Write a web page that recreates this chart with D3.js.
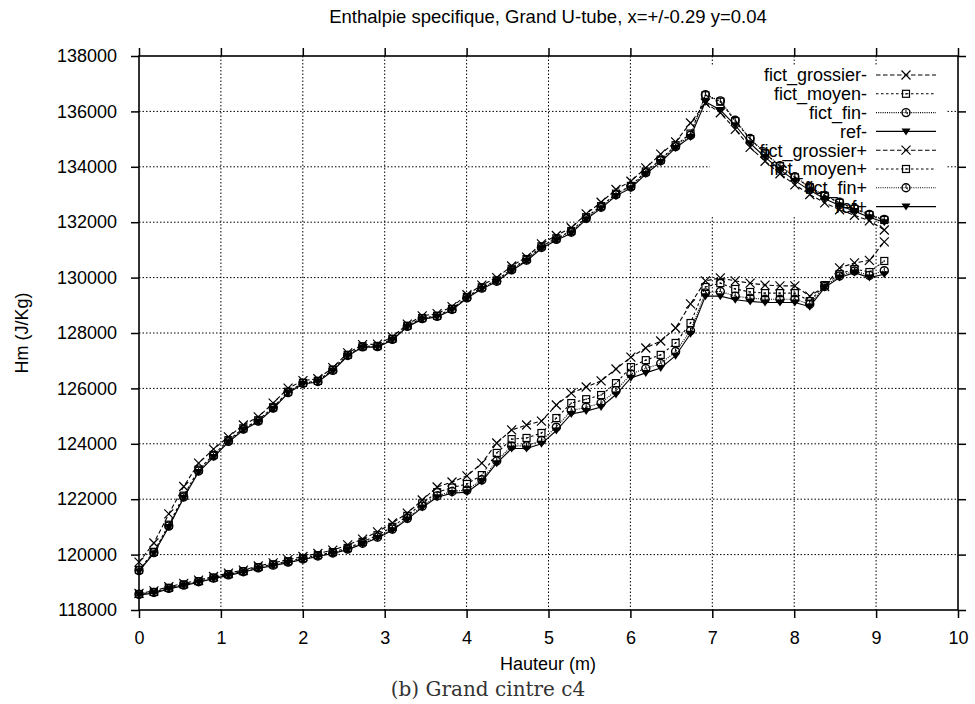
<!DOCTYPE html>
<html lang="fr">
<head>
<meta charset="UTF-8">
<title>Enthalpie specifique, Grand U-tube</title>
<script src="https://d3js.org/d3.v7.min.js"></script>
<style>
    body { margin: 0; background: #fff; }
    svg { display: block; font-family: "Liberation Sans", Arial, sans-serif; }
    .grid line { stroke: #000; stroke-width: 1; stroke-dasharray: 1.5,2; }
    .axis path { display: none; }
    .axis line { stroke: #000; stroke-width: 1.5; }
    .axis text { font-size: 18px; fill: #000; font-family: "Liberation Sans", Arial, sans-serif; }
    .key text { font-size: 18px; }
</style>
</head>
<body>
<svg width="975" height="704"></svg>
<script>
// hauteur (m) des points de mesure
const hauteur = [0, 0.182, 0.364, 0.546, 0.728, 0.91, 1.092, 1.274, 1.456, 1.638,
    1.82, 2.002, 2.184, 2.366, 2.548, 2.73, 2.912, 3.094, 3.276, 3.458,
    3.64, 3.822, 4.004, 4.186, 4.368, 4.55, 4.732, 4.914, 5.096, 5.278,
    5.46, 5.642, 5.824, 6.006, 6.188, 6.37, 6.552, 6.734, 6.916, 7.098,
    7.28, 7.462, 7.644, 7.826, 8.008, 8.19, 8.372, 8.554, 8.736, 8.918, 9.1];

// courbe haute (-)
const grossierMoins = [119730, 120420, 121470, 122460, 123300, 123810, 124250, 124680, 124970, 125470,
    126010, 126280, 126350, 126750, 127280, 127580, 127600, 127860, 128320, 128620,
    128700, 128950, 129380, 129730, 130000, 130420, 130740, 131220, 131520, 131800,
    132300, 132720, 133180, 133480, 133960, 134460, 134900, 135580, 136300, 135950,
    135350, 134700, 134200, 133750, 133350, 133000, 132700, 132450, 132250, 132050, 131720];
const moyenMoins = [119450, 120100, 121080, 122130, 123070, 123600, 124130, 124560, 124850, 125320,
    125880, 126200, 126270, 126680, 127210, 127520, 127530, 127790, 128260, 128540,
    128620, 128870, 129300, 129650, 129900, 130320, 130670, 131130, 131420, 131680,
    132180, 132580, 133030, 133310, 133830, 134260, 134780, 135200, 136580, 136350,
    135650, 135000, 134480, 134020, 133620, 133260, 132950, 132700, 132480, 132260, 132080];
const finMoins = [119420, 120070, 121030, 122080, 123020, 123560, 124090, 124530, 124820, 125290,
    125850, 126180, 126250, 126650, 127190, 127500, 127510, 127770, 128240, 128520,
    128600, 128850, 129270, 129620, 129870, 130280, 130630, 131090, 131380, 131640,
    132140, 132540, 132990, 133270, 133790, 134220, 134730, 135140, 136600, 136380,
    135680, 135020, 134500, 134040, 133640, 133280, 132970, 132720, 132500, 132280, 132100];
const refMoins = [119400, 120050, 121000, 122050, 122980, 123520, 124060, 124500, 124790, 125260,
    125830, 126160, 126230, 126630, 127170, 127490, 127490, 127750, 128220, 128500,
    128580, 128830, 129250, 129600, 129850, 130250, 130600, 131050, 131350, 131600,
    132100, 132500, 132950, 133230, 133740, 134170, 134680, 135080, 136350, 136050,
    135500, 134850, 134350, 133900, 133500, 133150, 132850, 132600, 132400, 132180, 132000];

// courbe basse (+)
const grossierPlus = [118600, 118690, 118840, 118960, 119080, 119210, 119330, 119440, 119590, 119700,
    119820, 119930, 120040, 120160, 120350, 120560, 120820, 121140, 121500, 121970,
    122440, 122620, 122840, 123300, 124030, 124500, 124680, 124820, 125400, 125830,
    126050, 126270, 126700, 127130, 127460, 127710, 128180, 129050, 129880, 129990,
    129880, 129800, 129730, 129700, 129700, 129330, 129680, 130350, 130530, 130620, 131290];
const moyenPlus = [118580, 118650, 118800, 118920, 119040, 119170, 119290, 119400, 119550, 119650,
    119760, 119870, 119980, 120090, 120240, 120460, 120700, 121000, 121400, 121850,
    122250, 122420, 122550, 122870, 123670, 124170, 124210, 124390, 124930, 125470,
    125610, 125760, 126190, 126770, 127020, 127210, 127640, 128360, 129660, 129800,
    129590, 129480, 129440, 129440, 129440, 129150, 129730, 130130, 130310, 130200, 130600];
const finPlus = [118560, 118630, 118780, 118900, 119020, 119150, 119270, 119380, 119520, 119620,
    119730, 119840, 119950, 120060, 120200, 120410, 120630, 120920, 121310, 121750,
    122120, 122280, 122330, 122700, 123380, 123920, 123930, 124120, 124600, 125200,
    125320, 125470, 125920, 126520, 126720, 126900, 127330, 128080, 129450, 129500,
    129330, 129260, 129220, 129220, 129220, 129040, 129680, 130060, 130240, 130080, 130250];
const refPlus = [118540, 118610, 118760, 118880, 119000, 119130, 119250, 119360, 119500, 119600,
    119710, 119820, 119930, 120040, 120180, 120380, 120600, 120880, 121270, 121700,
    122070, 122220, 122250, 122640, 123300, 123830, 123830, 124000, 124480, 125080,
    125180, 125330, 125780, 126380, 126560, 126740, 127180, 127970, 129330, 129330,
    129200, 129140, 129100, 129100, 129100, 128950, 129640, 130000, 130180, 130000, 130120];

const labels = ["fict_grossier-", "fict_moyen-", "fict_fin-", "ref-",
                "fict_grossier+", "fict_moyen+", "fict_fin+", "ref+"];
const valeurs = [grossierMoins, moyenMoins, finMoins, refMoins,
                 grossierPlus, moyenPlus, finPlus, refPlus];

const xTicks = [0, 1, 2, 3, 4, 5, 6, 7, 8, 9, 10];
const yTicks = [118000, 120000, 122000, 124000, 126000, 128000, 130000, 132000, 134000, 136000, 138000];

// styles gnuplot : trait et symbole de chaque type
const styles = [
    { dash: "4.5,2.5", mark: "cross" },
    { dash: "2.5,2.5", mark: "square" },
    { dash: "1,1.2",   mark: "circle" },
    { dash: null,      mark: "triangle" }
];

const svg = d3.select("svg");
const pLeft = 139, pRight = 958, pTop = 56, pBottom = 610;

const x = d3.scaleLinear().domain([0, 10]).range([pLeft, pRight]);
const y = d3.scaleLinear().domain([118000, 138000]).range([pBottom, pTop]);

// titre
svg.append("text")
   .attr("x", 548).attr("y", 23)
   .attr("text-anchor", "middle")
   .style("font-size", "18.5px")
   .text("Enthalpie specifique, Grand U-tube, x=+/-0.29 y=0.04");

// grille en pointillés
const grid = svg.append("g").attr("class", "grid");
grid.selectAll(".gx").data(xTicks.slice(1, -1)).enter().append("line")
    .attr("x1", d => x(d)).attr("x2", d => x(d))
    .attr("y1", pTop).attr("y2", pBottom);
grid.selectAll(".gy").data(yTicks.slice(1, -1)).enter().append("line")
    .attr("x1", pLeft).attr("x2", pRight)
    .attr("y1", d => y(d)).attr("y2", d => y(d));

// la légende masque la grille
svg.append("rect")
   .attr("x", 710).attr("y", 66).attr("width", 236).attr("height", 150)
   .attr("fill", "#fff");

// axes (graduations vers l'extérieur)
svg.append("g").attr("class", "axis")
   .attr("transform", `translate(0,${pBottom})`)
   .call(d3.axisBottom(x).tickValues(xTicks).tickSize(8).tickPadding(13).tickFormat(d3.format("d")));
svg.append("g").attr("class", "axis")
   .attr("transform", `translate(0,${pTop})`)
   .call(d3.axisTop(x).tickValues(xTicks).tickSize(8).tickFormat(""));
svg.append("g").attr("class", "axis")
   .attr("transform", `translate(${pLeft},0)`)
   .call(d3.axisLeft(y).tickValues(yTicks).tickSize(8).tickPadding(14).tickFormat(d3.format("d")));
svg.append("g").attr("class", "axis")
   .attr("transform", `translate(${pRight},0)`)
   .call(d3.axisRight(y).tickValues(yTicks).tickSize(8).tickFormat(""));

svg.append("rect")
   .attr("x", pLeft).attr("y", pTop)
   .attr("width", pRight - pLeft).attr("height", pBottom - pTop)
   .attr("fill", "none").attr("stroke", "#000").attr("stroke-width", 1.6);

// dessin d'un symbole
function drawMark(g, type, cx, cy) {
    if (type === "cross") {
        g.append("path")
         .attr("d", `M${cx - 4.5},${cy - 4.5}L${cx + 4.5},${cy + 4.5}M${cx - 4.5},${cy + 4.5}L${cx + 4.5},${cy - 4.5}`)
         .attr("stroke", "#000").attr("stroke-width", 1.2);
    } else if (type === "square") {
        g.append("rect")
         .attr("x", cx - 3.5).attr("y", cy - 3.5).attr("width", 7).attr("height", 7)
         .attr("fill", "none").attr("stroke", "#000").attr("stroke-width", 1.2);
        g.append("rect").attr("x", cx - 0.7).attr("y", cy - 0.7).attr("width", 1.4).attr("height", 1.4).attr("fill", "#000");
    } else if (type === "circle") {
        g.append("circle").attr("cx", cx).attr("cy", cy).attr("r", 4)
         .attr("fill", "none").attr("stroke", "#000").attr("stroke-width", 1.4);
        g.append("path").attr("d", `M${cx},${cy - 3}L${cx},${cy}L${cx + 2},${cy + 1.5}`)
         .attr("stroke", "#000").attr("stroke-width", 1).attr("fill", "none");
    } else {
        g.append("path")
         .attr("d", `M${cx - 4.5},${cy - 3}L${cx + 4.5},${cy - 3}L${cx},${cy + 4}Z`)
         .attr("fill", "#000");
    }
}

const line = d3.line().x(d => x(d[0])).y(d => y(d[1]));

valeurs.forEach((serie, k) => {
    const st = styles[k % 4];
    const pts = hauteur.map((h, i) => [h, serie[i]]);
    const g = svg.append("g");
    g.append("path")
     .datum(pts)
     .attr("d", line)
     .attr("fill", "none")
     .attr("stroke", "#000")
     .attr("stroke-width", 1.1)
     .attr("stroke-dasharray", st.dash);
    pts.forEach(p => drawMark(g, st.mark, x(p[0]), y(p[1])));
});

// légende
const key = svg.append("g").attr("class", "key");
labels.forEach((lab, k) => {
    const st = styles[k % 4];
    const ky = 75 + k * 18.8;
    key.append("text")
       .attr("x", 867).attr("y", ky).attr("dy", "0.35em")
       .attr("text-anchor", "end")
       .text(lab);
    key.append("line")
       .attr("x1", 876).attr("x2", 936).attr("y1", ky).attr("y2", ky)
       .attr("stroke", "#000").attr("stroke-width", 1.1)
       .attr("stroke-dasharray", st.dash);
    drawMark(key, st.mark, 906, ky);
});

// titres des axes
svg.append("text")
   .attr("x", 548).attr("y", 670)
   .attr("text-anchor", "middle")
   .style("font-size", "18px")
   .text("Hauteur (m)");
svg.append("text")
   .attr("transform", "translate(28,333) rotate(-90)")
   .attr("text-anchor", "middle")
   .style("font-size", "18px")
   .text("Hm (J/Kg)");

// légende de la figure
svg.append("text")
   .attr("x", 488).attr("y", 696)
   .attr("text-anchor", "middle")
   .style("font-family", "'DejaVu Serif', 'Liberation Serif', serif")
   .style("font-size", "20px")
   .style("fill", "#333")
   .text("(b) Grand cintre c4");
</script>
</body>
</html>
